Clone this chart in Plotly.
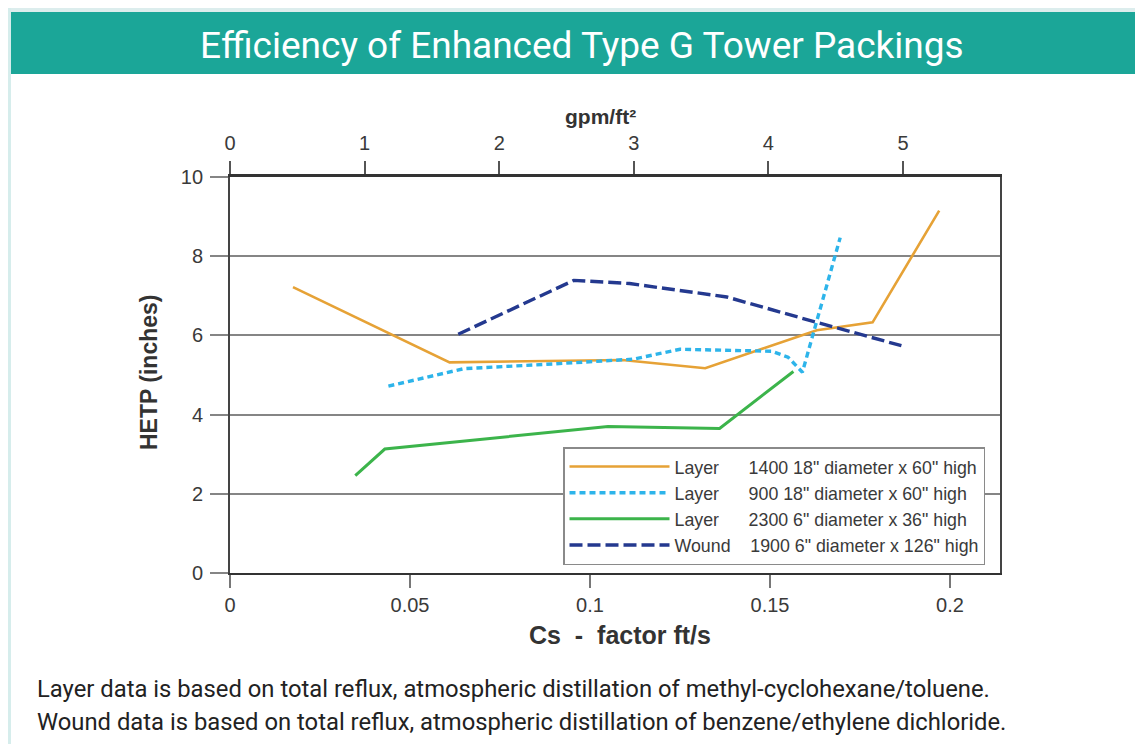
import plotly.graph_objects as go

# ---- data ----
cs_1400 = [0.0175, 0.061, 0.109, 0.132, 0.163, 0.1785, 0.197]
hetp_1400 = [7.22, 5.32, 5.38, 5.17, 6.13, 6.33, 9.15]

cs_900 = [0.044, 0.065, 0.09, 0.112, 0.125, 0.1505, 0.155, 0.159, 0.1695]
hetp_900 = [4.72, 5.16, 5.28, 5.40, 5.65, 5.60, 5.45, 5.07, 8.47]

cs_2300 = [0.0348, 0.043, 0.105, 0.136, 0.1565]
hetp_2300 = [2.46, 3.13, 3.70, 3.65, 5.09]

cs_1900 = [0.0634, 0.0955, 0.111, 0.138, 0.163, 0.1865]
hetp_1900 = [6.03, 7.39, 7.31, 6.97, 6.33, 5.74]

series_names = [
    "Layer\u00a0\u00a0\u00a0\u00a0\u00a0\u00a01400 18\" diameter x 60\" high",
    "Layer\u00a0\u00a0\u00a0\u00a0\u00a0\u00a0900 18\" diameter x 60\" high",
    "Layer\u00a0\u00a0\u00a0\u00a0\u00a0\u00a02300 6\" diameter x 36\" high",
    "Wound\u00a0\u00a0\u00a0\u00a01900 6\" diameter x 126\" high",
]
x_ticks = [0, 0.05, 0.1, 0.15, 0.2]
x_tick_labels = ["0", "0.05", "0.1", "0.15", "0.2"]
y_ticks = [0, 2, 4, 6, 8, 10]
top_ticks = [0, 1, 2, 3, 4, 5]

# ---- layout geometry (pixels, in page coordinates; page body has an 8px margin) ----
OFF = 8
W, H = 1143 - OFF, 744 - OFF
L, R, T, B = 230, 1000, 177, 573


def px(x):
    return (x - L) / (R - L)


def py(y):
    return (B - y) / (B - T)


fig = go.Figure()
styles = [
    dict(color="#E6A236", width=2.6),
    dict(color="#2DB4EA", width=3.4, dash="6px,4px"),
    dict(color="#3CB44B", width=3),
    dict(color="#24398F", width=3.4, dash="13px,5px"),
]
data = [(cs_1400, hetp_1400), (cs_900, hetp_900), (cs_2300, hetp_2300), (cs_1900, hetp_1900)]
for i, ((xs, ys), nm, st) in enumerate(zip(data, series_names, styles)):
    fig.add_trace(go.Scatter(x=xs, y=ys, mode="lines", name=nm, line=st,
                             legendgroup=f"g{i}", hoverinfo="x+y"))

tick_font = dict(family="Liberation Sans, Arial, sans-serif", size=20, color="#3a3a3a")
grid_col = "#858585"

fig.update_layout(
    width=W, height=H,
    margin=dict(l=L - OFF, r=W + OFF - R, t=T - OFF, b=H + OFF - B, pad=0),
    paper_bgcolor="white", plot_bgcolor="white",
    showlegend=True,
    legend=dict(
        x=px(563), y=py(447), xanchor="left", yanchor="top",
        bgcolor="white", bordercolor="#8a8a8a", borderwidth=1.5,
        font=dict(family="Liberation Sans, Arial, sans-serif", size=17.8, color="#3a3a3a"),
        itemwidth=100, tracegroupgap=3, traceorder="normal",
    ),
    xaxis=dict(
        range=[0, (R - L) / 3600], tickvals=x_ticks, ticktext=x_tick_labels,
        showgrid=False, zeroline=False,
        showline=True, linecolor="#333333", linewidth=2,
        ticks="outside", ticklen=13, tickwidth=1.5, tickcolor="#777777",
        tickfont=tick_font, ticklabelstandoff=0,
    ),
    xaxis2=dict(
        range=[0, (R - L) / 134.6], tickvals=top_ticks, overlaying="x", side="top",
        anchor="y", showgrid=False, zeroline=False,
        showline=True, linecolor="#333333", linewidth=3,
        ticks="outside", ticklen=13, tickwidth=1.5, tickcolor="#555555",
        tickfont=tick_font, ticklabelstandoff=3,
    ),
    yaxis=dict(
        range=[0, 10], tickvals=y_ticks, showgrid=True, gridcolor=grid_col, gridwidth=1.5,
        zeroline=False, showline=True, linecolor="#444444", linewidth=1.8, mirror=True,
        ticks="outside", ticklen=18, tickwidth=1.5, tickcolor=grid_col,
        tickfont=tick_font, ticklabelstandoff=3,
    ),
)
# invisible anchor trace so the top axis is rendered
fig.add_trace(go.Scatter(x=[0, 5], y=[None, None], xaxis="x2", mode="lines",
                         showlegend=False, hoverinfo="skip"))

# ---- decoration: page background and title banner ----
shapes = [
    dict(type="rect", xref="paper", yref="paper", x0=px(OFF), x1=px(1143), y0=py(OFF), y1=py(12),
         fillcolor="#DCEDED", line=dict(width=0), layer="below"),
    dict(type="rect", xref="paper", yref="paper", x0=px(OFF), x1=px(11), y0=py(OFF), y1=py(744),
         fillcolor="#D6EDEC", line=dict(width=0), layer="below"),
    dict(type="rect", xref="paper", yref="paper", x0=px(11), x1=px(1143), y0=py(12), y1=py(74),
         fillcolor="#1BA698", line=dict(width=0), layer="below"),
]
fig.update_layout(shapes=shapes)

ann = [
    dict(text="Efficiency of Enhanced Type G Tower Packings", x=px(582), y=py(45),
         font=dict(family="Roboto, sans-serif", size=37, color="white")),
    dict(text="<b>gpm/ft²</b>", x=px(600), y=py(117),
         font=dict(family="Liberation Sans, Arial, sans-serif", size=21, color="#333333")),
    dict(text="<b>Cs  -  factor ft/s</b>", x=px(620), y=py(635),
         font=dict(family="Liberation Sans, Arial, sans-serif", size=25, color="#333333")),
    dict(text="<b>HETP (inches)</b>", x=px(149), y=py(372), textangle=-90,
         font=dict(family="Liberation Sans, Arial, sans-serif", size=23, color="#333333")),
    dict(text="Layer data is based on total reflux, atmospheric distillation of methyl-cyclohexane/toluene.",
         x=px(35), y=py(689), xanchor="left",
         font=dict(family="Roboto, sans-serif", size=23.8, color="#222222")),
    dict(text="Wound data is based on total reflux, atmospheric distillation of benzene/ethylene dichloride.",
         x=px(35), y=py(722), xanchor="left",
         font=dict(family="Roboto, sans-serif", size=23.8, color="#222222")),
]
for a in ann:
    a.setdefault("xanchor", "center")
    a.update(xref="paper", yref="paper", yanchor="middle", showarrow=False)
fig.update_layout(annotations=ann)

fig.write_html("out.html")
